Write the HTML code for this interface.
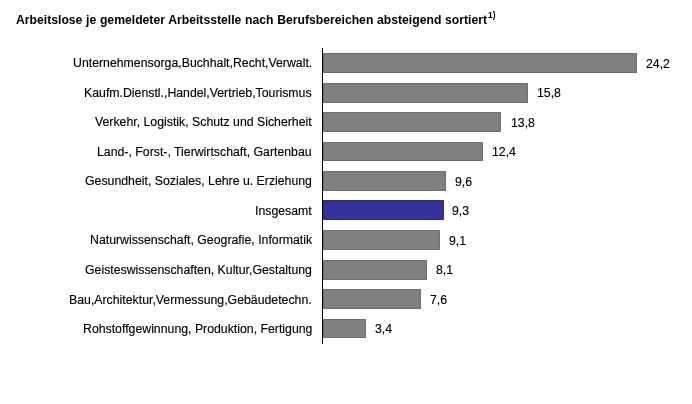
<!DOCTYPE html>
<html><head><meta charset="utf-8"><style>
html,body{margin:0;padding:0;background:#fff;}
.t,.l,.v{will-change:transform;}
.l,.v{-webkit-text-stroke:0.15px #000;}
body{width:692px;height:404px;position:relative;overflow:hidden;font-family:"Liberation Sans",sans-serif;color:#000;}
.t{position:absolute;left:16px;top:12px;font-weight:bold;font-size:12.2px;word-spacing:0.3px;white-space:nowrap;line-height:16px;}
.t sup{font-size:8.4px;position:relative;top:-5.5px;vertical-align:top;margin-left:1px;}
.ax{position:absolute;left:322px;top:48px;width:1px;height:296px;background:#000;}
.b{position:absolute;left:323px;height:20px;background:#808080;box-shadow:inset 0 0 0 1px rgba(0,0,0,0.14);}
.b.hi{background:#333399;}
.l{position:absolute;right:380px;height:20px;line-height:20px;font-size:12.3px;white-space:nowrap;text-align:right;}
.v{position:absolute;height:20px;line-height:20px;font-size:12.3px;white-space:nowrap;}
</style></head><body>
<div class="t">Arbeitslose je gemeldeter Arbeitsstelle nach Berufsbereichen absteigend sortiert<sup>1)</sup></div>
<div class="ax"></div>

<div class="b" style="top:53px;width:314px;height:20px"></div>
<div class="l" style="top:53px">Unternehmensorga,Buchhalt,Recht,Verwalt.</div>
<div class="v" style="top:54px;left:646.0px">24,2</div>
<div class="b" style="top:83px;width:205px;height:20px"></div>
<div class="l" style="top:83px">Kaufm.Dienstl.,Handel,Vertrieb,Tourismus</div>
<div class="v" style="top:83px;left:537.0px">15,8</div>
<div class="b" style="top:112px;width:178px;height:20px"></div>
<div class="l" style="top:112px">Verkehr, Logistik, Schutz und Sicherheit</div>
<div class="v" style="top:113px;left:510.5px">13,8</div>
<div class="b" style="top:142px;width:160px;height:19px"></div>
<div class="l" style="top:142px">Land-, Forst-, Tierwirtschaft, Gartenbau</div>
<div class="v" style="top:142px;left:491.5px">12,4</div>
<div class="b" style="top:171px;width:123px;height:20px"></div>
<div class="l" style="top:171px">Gesundheit, Soziales, Lehre u. Erziehung</div>
<div class="v" style="top:172px;left:455.0px">9,6</div>
<div class="b hi" style="top:200px;width:121px;height:20px"></div>
<div class="l" style="top:201px">Insgesamt</div>
<div class="v" style="top:201px;left:452.0px">9,3</div>
<div class="b" style="top:230px;width:117px;height:20px"></div>
<div class="l" style="top:230px">Naturwissenschaft, Geografie, Informatik</div>
<div class="v" style="top:231px;left:449.0px">9,1</div>
<div class="b" style="top:260px;width:104px;height:20px"></div>
<div class="l" style="top:260px">Geisteswissenschaften, Kultur,Gestaltung</div>
<div class="v" style="top:260px;left:436.3px">8,1</div>
<div class="b" style="top:289px;width:98px;height:20px"></div>
<div class="l" style="top:290px">Bau,Architektur,Vermessung,Gebäudetechn.</div>
<div class="v" style="top:290px;left:429.5px">7,6</div>
<div class="b" style="top:319px;width:43px;height:19px"></div>
<div class="l" style="top:319px">Rohstoffgewinnung, Produktion, Fertigung</div>
<div class="v" style="top:319px;left:375.3px">3,4</div>
</body></html>
